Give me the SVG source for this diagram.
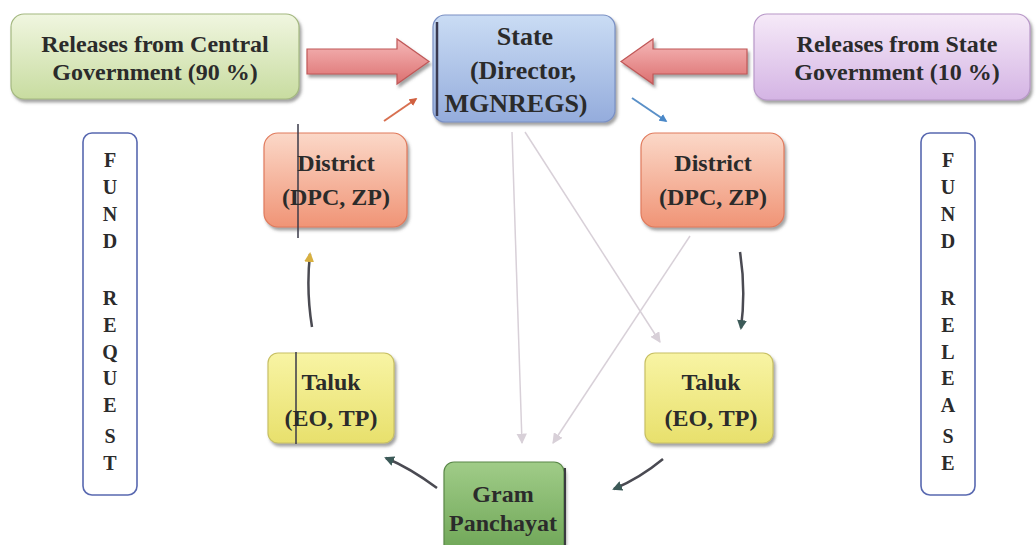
<svg xmlns="http://www.w3.org/2000/svg" width="1036" height="545" viewBox="0 0 1036 545">
<defs>
<style>
.t{font-family:'Liberation Serif','Times New Roman',serif;font-weight:700;fill:#2b2b2b;text-anchor:middle}
.h{font-size:24px}
.s{font-size:26px}
.l{font-size:20px}
.side{fill:#fff;stroke:#5868b0;stroke-width:1.6}
.gl{stroke:#d8d0d8;stroke-width:1.5;fill:none}
.cv{stroke:#4a4a52;stroke-width:2.5;fill:none}
</style>
<linearGradient id="gC" x1="0" y1="0" x2="0" y2="1"><stop offset="0" stop-color="#f0f6e0"/><stop offset="1" stop-color="#c8dca0"/></linearGradient>
<linearGradient id="gS" x1="0" y1="0" x2="0" y2="1"><stop offset="0" stop-color="#cadcf4"/><stop offset="1" stop-color="#94acdc"/></linearGradient>
<linearGradient id="gP" x1="0" y1="0" x2="0" y2="1"><stop offset="0" stop-color="#f6eaf8"/><stop offset="1" stop-color="#d4b4e4"/></linearGradient>
<linearGradient id="gD" x1="0" y1="0" x2="0" y2="1"><stop offset="0" stop-color="#fbd8c8"/><stop offset="1" stop-color="#f09476"/></linearGradient>
<linearGradient id="gT" x1="0" y1="0" x2="0" y2="1"><stop offset="0" stop-color="#f8f4a4"/><stop offset="1" stop-color="#e8e06c"/></linearGradient>
<linearGradient id="gG" x1="0" y1="0" x2="0" y2="1"><stop offset="0" stop-color="#a0cc88"/><stop offset="1" stop-color="#6ca454"/></linearGradient>
<linearGradient id="gA" x1="0" y1="0" x2="0" y2="1"><stop offset="0" stop-color="#f6b8b8"/><stop offset="1" stop-color="#dc7070"/></linearGradient>
<filter id="sh" x="-10%" y="-10%" width="125%" height="130%"><feDropShadow dx="2" dy="3" stdDeviation="1.5" flood-color="#555" flood-opacity="0.55"/></filter>
<marker id="mg" viewBox="0 0 10 10" refX="9" refY="5" markerWidth="7" markerHeight="7" orient="auto"><path d="M0,0 L10,5 L0,10 z" fill="#d8d0d8"/></marker>
<marker id="md" viewBox="0 0 10 10" refX="8" refY="5" markerWidth="4" markerHeight="4" orient="auto"><path d="M0,0 L10,5 L0,10 z" fill="#3c5a58"/></marker>
<marker id="my" viewBox="0 0 10 10" refX="8" refY="5" markerWidth="4" markerHeight="4" orient="auto"><path d="M0,0 L10,5 L0,10 z" fill="#d8b040"/></marker>
<marker id="mo" viewBox="0 0 10 10" refX="8" refY="5" markerWidth="4" markerHeight="4" orient="auto"><path d="M0,0 L10,5 L0,10 z" fill="#d06040"/></marker>
<marker id="mb" viewBox="0 0 10 10" refX="8" refY="5" markerWidth="4" markerHeight="4" orient="auto"><path d="M0,0 L10,5 L0,10 z" fill="#4a88c8"/></marker>
</defs>
<rect width="1036" height="545" fill="#fff"/>

<g id="connectors">
<path d="M307,49 H397 V39 L429,61.5 L397,84 V74 H307 Z" fill="url(#gA)" stroke="#c05858" stroke-width="1.2" filter="url(#sh)"/>
<path d="M747,49 H653 V39 L621,61.5 L653,84 V74 H747 Z" fill="url(#gA)" stroke="#c05858" stroke-width="1.2" filter="url(#sh)"/>
<line x1="384" y1="121" x2="416" y2="99" stroke="#d87050" stroke-width="2" marker-end="url(#mo)"/>
<line x1="632" y1="98" x2="666" y2="121" stroke="#5a90c8" stroke-width="2" marker-end="url(#mb)"/>
<line class="gl" x1="512" y1="132" x2="522" y2="443" marker-end="url(#mg)"/>
<line class="gl" x1="525" y1="132" x2="660" y2="342" marker-end="url(#mg)"/>
<line class="gl" x1="690" y1="236" x2="553" y2="443" marker-end="url(#mg)"/>
<path class="cv" d="M312,327 Q306,290 310,254" marker-end="url(#my)"/>
<path class="cv" d="M740,252 Q746,290 741,328" marker-end="url(#md)"/>
<path class="cv" d="M437,488 Q410,468 386,458" marker-end="url(#md)"/>
<path class="cv" d="M663,459 Q640,478 614,489" marker-end="url(#md)"/>
</g>

<g id="central">
<rect x="11" y="14" width="288" height="85" rx="13" fill="url(#gC)" stroke="#a4b880" stroke-width="1.2" filter="url(#sh)"/>
<text class="t h" x="155" y="52">Releases from Central</text>
<text class="t h" x="155" y="80">Government (90 %)</text>
</g>

<g id="state">
<rect x="433" y="15" width="182" height="107" rx="12" fill="url(#gS)" stroke="#7a90c4" stroke-width="1.2" filter="url(#sh)"/>
<line x1="437" y1="22" x2="437" y2="116" stroke="#3a3a50" stroke-width="2.5"/>
<text class="t s" x="525" y="45">State</text>
<text class="t s" x="523" y="79">(Director,</text>
<text class="t s" x="516" y="112">MGNREGS)</text>
</g>

<g id="stategov">
<rect x="754" y="14" width="276" height="86" rx="13" fill="url(#gP)" stroke="#b898c8" stroke-width="1.2" filter="url(#sh)"/>
<text class="t h" x="897" y="52">Releases from State</text>
<text class="t h" x="897" y="80">Government (10 %)</text>
</g>

<g id="fundrequest">
<rect class="side" x="83" y="133" width="54" height="362" rx="9"/>
<g class="t l">
<text x="110" y="167">F</text><text x="110" y="194">U</text><text x="110" y="221">N</text><text x="110" y="248">D</text>
<text x="110" y="305">R</text><text x="110" y="332">E</text><text x="110" y="359">Q</text><text x="110" y="385">U</text>
<text x="110" y="412">E</text><text x="110" y="443">S</text><text x="110" y="470">T</text>
</g>
</g>

<g id="fundrelease">
<rect class="side" x="921" y="133" width="54" height="362" rx="9"/>
<g class="t l">
<text x="948" y="167">F</text><text x="948" y="194">U</text><text x="948" y="221">N</text><text x="948" y="248">D</text>
<text x="948" y="305">R</text><text x="948" y="332">E</text><text x="948" y="359">L</text><text x="948" y="385">E</text>
<text x="948" y="412">A</text><text x="948" y="443">S</text><text x="948" y="470">E</text>
</g>
</g>

<g id="district-left">
<rect x="264" y="133" width="143" height="94" rx="14" fill="url(#gD)" stroke="#e07a5c" stroke-width="1.2" filter="url(#sh)"/>
<line x1="298" y1="124" x2="298" y2="238" stroke="#3a3a48" stroke-width="1.5"/>
<text class="t h" x="336" y="171">District</text>
<text class="t h" x="336" y="205">(DPC, ZP)</text>
</g>

<g id="district-right">
<rect x="641" y="133" width="143" height="94" rx="14" fill="url(#gD)" stroke="#e07a5c" stroke-width="1.2" filter="url(#sh)"/>
<text class="t h" x="713" y="171">District</text>
<text class="t h" x="713" y="205">(DPC, ZP)</text>
</g>

<g id="taluk-left">
<rect x="268" y="353" width="126" height="90" rx="10" fill="url(#gT)" stroke="#c8c064" stroke-width="1.2" filter="url(#sh)"/>
<line x1="296" y1="352" x2="296" y2="444" stroke="#3a3a48" stroke-width="1.5"/>
<text class="t h" x="331" y="390">Taluk</text>
<text class="t h" x="331" y="426">(EO, TP)</text>
</g>

<g id="taluk-right">
<rect x="645" y="353" width="128" height="90" rx="10" fill="url(#gT)" stroke="#c8c064" stroke-width="1.2" filter="url(#sh)"/>
<text class="t h" x="711" y="390">Taluk</text>
<text class="t h" x="711" y="426">(EO, TP)</text>
</g>

<g id="gram">
<rect x="444" y="462" width="120" height="95" rx="10" fill="url(#gG)" stroke="#5a8848" stroke-width="1.2" filter="url(#sh)"/>
<line x1="565" y1="468" x2="565" y2="545" stroke="#3a3a40" stroke-width="2"/>
<text class="t h" x="503" y="502">Gram</text>
<text class="t h" x="503" y="531">Panchayat</text>
</g>
</svg>
